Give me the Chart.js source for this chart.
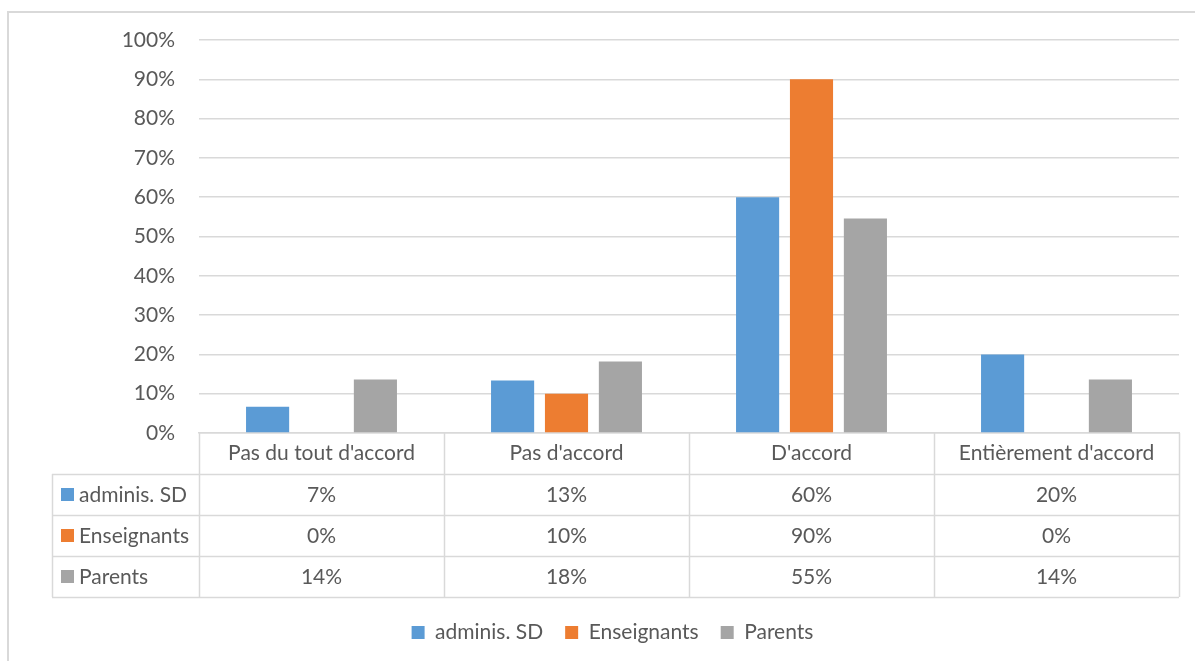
<!DOCTYPE html>
<html>
<head>
<meta charset="utf-8">
<script src="https://cdn.jsdelivr.net/npm/chart.js@4.4.1/dist/chart.umd.min.js"></script>
<style>
  html, body { margin: 0; padding: 0; background: #ffffff; }
  #wrap { width: 1195px; height: 661px; }
</style>
</head>
<body>
<div id="wrap"><canvas id="c" width="1195" height="661"></canvas></div>
<script>
const categories = ["Pas du tout d'accord", "Pas d'accord", "D'accord", "Entièrement d'accord"];
const seriesNames = ["adminis. SD", "Enseignants", "Parents"];
const adminisSD = [6.67, 13.33, 60, 20];
const enseignants = [0, 10, 90, 0];
const parents = [13.64, 18.18, 54.55, 13.64];
const yTicks = [0, 10, 20, 30, 40, 50, 60, 70, 80, 90, 100];
const colors = ["#5B9BD5", "#ED7D31", "#A5A5A5"];

const FONT = "Lato, 'Open Sans', sans-serif";
const FS = 21;
const TEXT = "#595959";
const LINE = "#d9d9d9";
const PLOT_BOTTOM = 433;
const BOTTOM_PAD = 8;
const LEFT_PAD = 46;

const seriesData = [adminisSD, enseignants, parents];

const tablePlugin = {
  id: 'dataTable',
  beforeDraw(chart) {
    const ctx = chart.ctx;
    ctx.save();
    ctx.strokeStyle = LINE;
    ctx.lineWidth = 2;
    ctx.strokeRect(8, 12, 1400, 900);
    ctx.restore();
  },
  afterDraw(chart) {
    const ctx = chart.ctx;
    const x = chart.scales.x;
    const area = chart.chartArea;
    const n = categories.length;
    const catW = (area.right - area.left) / n;
    const rowH = 41;
    const top = area.bottom;
    const tableLeft = 52;
    ctx.save();
    ctx.strokeStyle = LINE;
    ctx.lineWidth = 1.5;
    const bottom = top + rowH * (seriesData.length + 1);
    for (let i = 0; i <= n; i++) {
      const px = Math.round(area.left + i * catW) + 0.5;
      ctx.beginPath();
      ctx.moveTo(px, top);
      ctx.lineTo(px, bottom);
      ctx.stroke();
    }
    ctx.beginPath();
    ctx.moveTo(tableLeft + 0.5, top + rowH);
    ctx.lineTo(tableLeft + 0.5, bottom);
    ctx.stroke();
    for (let r = 1; r <= seriesData.length + 1; r++) {
      const py = Math.round(top + r * rowH) + 0.5;
      ctx.beginPath();
      ctx.moveTo(tableLeft, py);
      ctx.lineTo(area.right, py);
      ctx.stroke();
    }
    ctx.font = FS + "px " + FONT;
    ctx.textBaseline = 'middle';
    for (let s = 0; s < seriesData.length; s++) {
      const cy = top + rowH * (s + 1) + rowH / 2;
      ctx.fillStyle = colors[s];
      ctx.fillRect(61, Math.round(cy - 7), 13, 13);
      ctx.fillStyle = TEXT;
      ctx.textAlign = 'left';
      ctx.fillText(seriesNames[s], 79, cy + 1);
      ctx.textAlign = 'center';
      for (let i = 0; i < n; i++) {
        const cx = x.getPixelForValue(i);
        ctx.fillText(Math.round(seriesData[s][i]) + "%", cx, cy + 1);
      }
    }
    ctx.restore();
  }
};

new Chart(document.getElementById('c'), {
  type: 'bar',
  data: {
    labels: categories,
    datasets: seriesNames.map((name, i) => ({
      label: name,
      data: seriesData[i],
      backgroundColor: colors[i],
      borderWidth: 0,
      barPercentage: 0.8,
      categoryPercentage: 0.66
    }))
  },
  options: {
    responsive: false,
    animation: false,
    devicePixelRatio: 1,
    layout: { padding: { top: 40, right: 16, bottom: BOTTOM_PAD, left: LEFT_PAD } },
    plugins: {
      legend: {
        position: 'bottom',
        labels: {
          boxWidth: 13,
          boxHeight: 13,
          padding: 22,
          color: TEXT,
          font: { family: FONT, size: FS }
        }
      },
      tooltip: { enabled: false }
    },
    scales: {
      x: {
        grid: { display: false, drawTicks: false },
        border: { display: true, color: LINE, width: 1.5 },
        ticks: {
          color: TEXT,
          font: { family: FONT, size: FS },
          padding: 8,
          maxRotation: 0,
          autoSkip: false
        },
        afterFit(scale) {
          const lh = scale.chart.legend ? scale.chart.legend.height : 0;
          scale.height = scale.chart.height - BOTTOM_PAD - lh - PLOT_BOTTOM;
        }
      },
      y: {
        min: 0,
        max: 100,
        afterBuildTicks(scale) { scale.ticks = yTicks.map(v => ({ value: v })); },
        grid: { color: LINE, drawTicks: false, lineWidth: 1.5 },
        border: { display: false },
        ticks: {
          color: TEXT,
          font: { family: FONT, size: FS },
          padding: 24,
          callback: v => v + "%"
        },
        afterFit(scale) { scale.width = 199 - LEFT_PAD; }
      }
    }
  },
  plugins: [tablePlugin]
});
</script>
</body>
</html>
